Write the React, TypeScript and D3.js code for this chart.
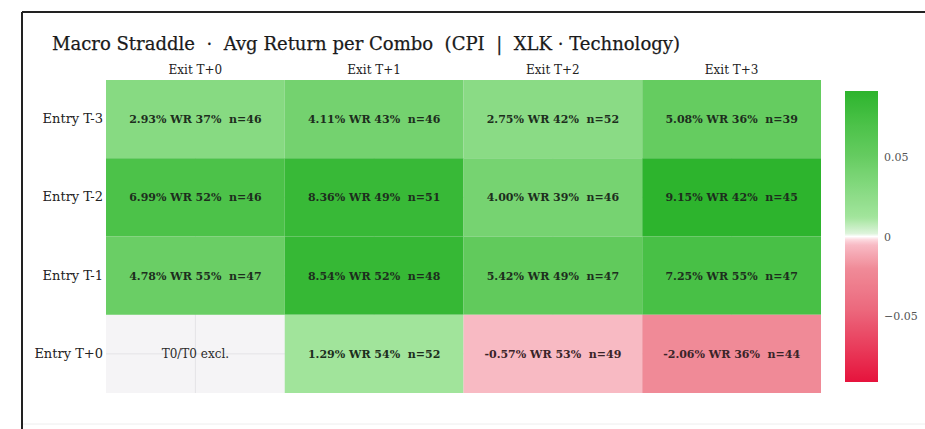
import React from "react";
import * as d3 from "d3";

const entries = ["Entry T-3", "Entry T-2", "Entry T-1", "Entry T+0"];
const exits = ["Exit T+0", "Exit T+1", "Exit T+2", "Exit T+3"];
const avgReturn: (number | null)[][] = [
  [2.93, 4.11, 2.75, 5.08],
  [6.99, 8.36, 4.0, 9.15],
  [4.78, 8.54, 5.42, 7.25],
  [null, 1.29, -0.57, -2.06],
];
const winRate: (number | null)[][] = [
  [37, 43, 42, 36],
  [52, 49, 39, 42],
  [55, 52, 49, 55],
  [null, 54, 53, 36],
];
const counts: (number | null)[][] = [
  [46, 46, 52, 39],
  [46, 51, 46, 45],
  [47, 48, 47, 47],
  [null, 52, 49, 44],
];
const colorTicks = [0.05, 0, -0.05];
const excludedLabel = "T0/T0 excl.";
const title = "Macro Straddle  ·  Avg Return per Combo  (CPI  |  XLK · Technology)";

const W = 925;
const H = 429;
const FONT = "'DejaVu Serif', Georgia, serif";

const zmax = 0.0915;
const colorStops = [-zmax, -0.045, -0.02, -0.005, -0.0008, 0, 0.0008, 0.012, 0.03, 0.05, 0.07, zmax];
const colorRange = [
  "#e6133c", "#ec6a7e", "#f08b98", "#f8bcc5", "#fde6ea", "#ffffff",
  "#e4f6e2", "#a2e49c", "#86da81", "#66cc61", "#4cc249", "#2db42d",
];
const color = d3.scaleLinear<string>().domain(colorStops).range(colorRange).clamp(true);

export default function App() {
  const x = d3.scaleBand().domain(exits).range([106, 821]).padding(0);
  const y = d3.scaleBand().domain(entries).range([80, 393]).padding(0);
  const cb = d3.scaleLinear().domain([-zmax, zmax]).range([382, 91]);
  const gradStops = d3.range(0, 101).map((i) => -zmax + (2 * zmax * i) / 100);

  return (
    <svg
      width={W}
      height={H}
      style={{ position: "absolute", left: 0, top: 0, background: "#fff" }}
      fontFamily={FONT}
    >
      <defs>
        <linearGradient id="cbgrad" x1="0" y1="1" x2="0" y2="0">
          {gradStops.map((v, i) => (
            <stop key={i} offset={`${i}%`} stopColor={color(v)} />
          ))}
        </linearGradient>
      </defs>
      <rect x={0} y={0} width={W} height={H} fill="#fff" />
      {/* frame */}
      <line x1={22} y1={12} x2={W} y2={12} stroke="#222" strokeWidth={2} />
      <line x1={22} y1={12} x2={22} y2={H} stroke="#222" strokeWidth={2} />
      <line x1={23} y1={424} x2={W} y2={424} stroke="#eee" strokeWidth={1} />

      <text x={52} y={50} fontSize={19} fill="#1a1a1a" stroke="#1a1a1a" strokeWidth={0.25} textLength={628} lengthAdjust="spacingAndGlyphs" style={{ whiteSpace: "pre" }}>
        {title}
      </text>

      {/* plot background and grid */}
      <rect x={106} y={80} width={715} height={313} fill="#f5f4f6" />
      {exits.map((e) => (
        <line key={e} x1={x(e)! + x.bandwidth() / 2} x2={x(e)! + x.bandwidth() / 2} y1={80} y2={393} stroke="#e4e3e6" strokeWidth={1} />
      ))}
      {entries.map((r) => (
        <line key={r} x1={106} x2={821} y1={y(r)! + y.bandwidth() / 2} y2={y(r)! + y.bandwidth() / 2} stroke="#e4e3e6" strokeWidth={1} />
      ))}

      {entries.map((r, i) =>
        exits.map((c, j) => {
          const v = avgReturn[i][j];
          const cx = x(c)! + x.bandwidth() / 2;
          const cy = y(r)! + y.bandwidth() / 2;
          if (v === null) {
            return (
              <text key={`${i}-${j}`} x={cx} y={cy + 4} textAnchor="middle" fontSize={12} fill="#2a2a2a">
                {excludedLabel}
              </text>
            );
          }
          const label = `${v.toFixed(2)}% WR ${winRate[i][j]}%  n=${counts[i][j]}`;
          return (
            <g key={`${i}-${j}`}>
              <rect x={x(c)!} y={y(r)!} width={x.bandwidth()} height={y.bandwidth()} fill={color(v / 100)} />
              <text x={cx} y={cy + 4} textAnchor="middle" fontSize={11} fontWeight="bold" fill={v >= 0 ? "#1d2e1d" : "#3a2428"} style={{ whiteSpace: "pre" }}>
                {label}
              </text>
            </g>
          );
        })
      )}

      {exits.map((c) => (
        <text key={c} x={x(c)! + x.bandwidth() / 2} y={74} textAnchor="middle" fontSize={12} fill="#222">
          {c}
        </text>
      ))}
      {entries.map((r) => (
        <text key={r} x={103} y={y(r)! + y.bandwidth() / 2 + 4} textAnchor="end" fontSize={13} fill="#222">
          {r}
        </text>
      ))}

      {/* colorbar */}
      <rect x={845} y={91} width={33} height={291} fill="url(#cbgrad)" />
      {colorTicks.map((t) => (
        <text key={t} x={884} y={cb(t) + 4} fontSize={11} fill="#555">
          {t === 0 ? "0" : d3.format("")(t).replace("-", "\u22120")}
        </text>
      ))}
    </svg>
  );
}
